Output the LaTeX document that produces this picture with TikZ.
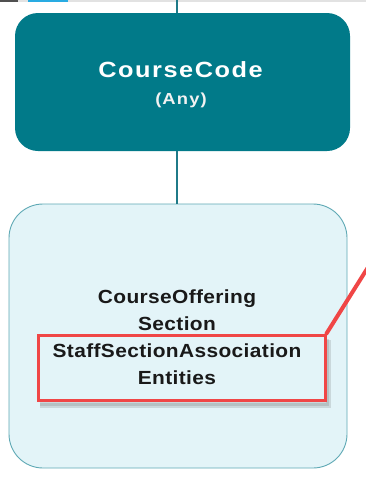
\documentclass[tikz,border=0pt]{standalone}
\usepackage{fontspec}
\setmainfont{Liberation Sans}
\newfontfamily\lblfont[FakeStretch=1.15,LetterSpace=7]{Liberation Sans}
\newfontfamily\entfont[FakeStretch=1.1,LetterSpace=2]{Liberation Sans}
\definecolor{tealbox}{HTML}{017A89}
\definecolor{tealline}{HTML}{1F7A88}
\definecolor{lightbox}{HTML}{E3F4F8}
\definecolor{lightedge}{HTML}{5FA9B5}
\definecolor{hired}{HTML}{F04646}
\definecolor{topdark}{HTML}{505050}
\definecolor{topblue}{HTML}{29ABE2}
\definecolor{topgray}{HTML}{E2E2E2}
\begin{document}
\begin{tikzpicture}[x=1pt,y=-1pt,
  codebox/.style={fill=tealbox, rounded corners=23pt, minimum width=335pt, minimum height=138pt, inner sep=0pt},
  entbox/.style={fill=lightbox, draw=lightedge, line width=0.9pt, rounded corners=34pt, minimum width=338pt, minimum height=264pt, inner sep=0pt},
  hlbox/.style={draw=hired, line width=3pt, minimum width=287pt, minimum height=65pt, inner sep=0pt},
  link/.style={draw=tealline, line width=2pt},
  callout/.style={draw=hired, line width=4pt, line cap=round}]
\useasboundingbox (0,0) rectangle (366,482);
\clip (0,0) rectangle (366,482);
\fill[white] (0,0) rectangle (366,482);
% top strip
\fill[topgray] (0,0) rectangle (366,1.6);
\fill[topdark] (0,0) rectangle (18,1.6);
\fill[topblue] (28,0) rectangle (68,1.6);
% nodes
\coordinate (top) at (177,0);
\node[codebox] (code) at (182.5,82) {};
\node[entbox] (ent) at (178,336) {};
\draw[link] (top) -- (top |- code.north);
\draw[link] (top |- code.south) -- (top |- ent.north);
\node[text=white, inner sep=0pt, font=\lblfont\bfseries\fontsize{22}{26}\selectfont] (codelbl) at (180.5,70) {CourseCode};
\node[text=white!95!black, inner sep=0pt, font=\lblfont\bfseries\fontsize{16}{19}\selectfont] (codeany) at (181,100) {(Any)};
% highlight shadow
\begin{scope}[opacity=0.18]
  \draw[gray!70!black, line width=6pt] (40,405) -- (328,405) -- (328,340);
  \draw[gray!70!black, line width=3pt] (40,404) -- (327,404) -- (327,339);
\end{scope}
\node[hlbox] (hl) at (181.5,367.5) {};
\node[text=black!90, align=center, inner sep=0pt, font=\entfont\bfseries\fontsize{19}{27}\selectfont] (entlbl) at (177,337.5)
  {CourseOffering\\Section\\StaffSectionAssociation\\Entities};
\coordinate (callend) at (382,245);
\draw[callout] (hl.north east) -- (callend);
\end{tikzpicture}
\end{document}
